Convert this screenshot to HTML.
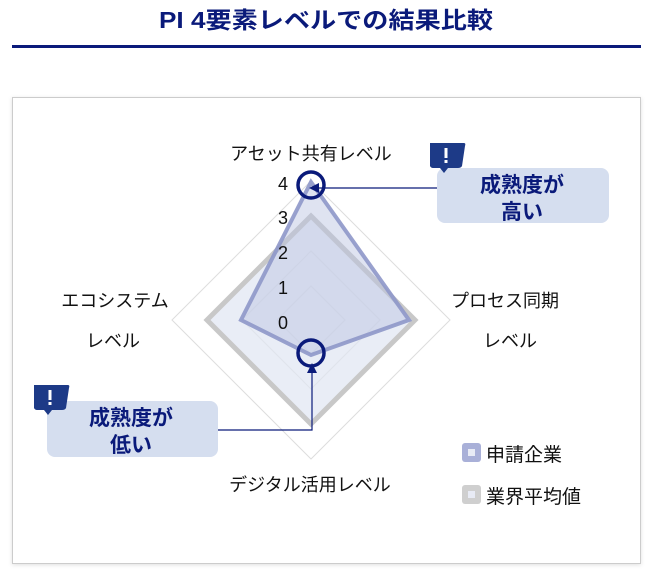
<!DOCTYPE html>
<html><head><meta charset="utf-8"><style>
html,body{margin:0;padding:0;background:#fff;}
body{width:650px;height:574px;overflow:hidden;font-family:"Liberation Sans","Noto Sans CJK JP",sans-serif;}
</style></head><body>
<svg width="650" height="574" viewBox="0 0 650 574" xmlns="http://www.w3.org/2000/svg" font-family="'Liberation Sans','Noto Sans CJK JP',sans-serif">
<defs>
<filter id="sh" x="-5%" y="-5%" width="110%" height="110%"><feDropShadow dx="0" dy="1" stdDeviation="2" flood-color="#000" flood-opacity="0.12"/></filter>
</defs>
<text x="326" y="28" text-anchor="middle" font-size="23" font-weight="bold" fill="#0a1a7a" textLength="334" lengthAdjust="spacingAndGlyphs">PI 4要素レベルでの結果比較</text>
<rect x="12" y="45" width="629" height="3" fill="#0a1a7a"/>
<rect x="12.5" y="97.5" width="628" height="466" fill="#fff" stroke="#cccccc" filter="url(#sh)"/>
<g fill="none" stroke="#dddddd" stroke-width="1">
<polygon points="311,286 345,320 311,354 277,320"/>
<polygon points="311,251 380,320 311,389 242,320"/>
<polygon points="311,216 415,320 311,424 207,320"/>
<polygon points="311,181 450,320 311,459 172,320"/>
</g>
<polygon points="311,216 415,320 311,424 207,320" fill="#dfe5f2" fill-opacity="0.7" stroke="#c8c8c8" stroke-width="5" stroke-linejoin="miter"/>
<polygon points="311,182 409,320 311,355 241,320" fill="#b8c0e0" fill-opacity="0.45" stroke="#8e97c9" stroke-width="4" stroke-opacity="0.9"/>
<g font-size="18" fill="#111" text-anchor="middle">
<text x="283" y="329">0</text>
<text x="283" y="294">1</text>
<text x="283" y="259">2</text>
<text x="283" y="224">3</text>
<text x="283" y="190">4</text>
</g>
<g font-size="18" fill="#111" text-anchor="middle">
<text x="311" y="160">アセット共有レベル</text>
<text x="505" y="307">プロセス同期</text>
<text x="510" y="347">レベル</text>
<text x="115" y="307">エコシステム</text>
<text x="113" y="347">レベル</text>
<text x="310" y="491">デジタル活用レベル</text>
</g>
<circle cx="311" cy="185" r="13" fill="none" stroke="#0a1a7a" stroke-width="3.5"/>
<circle cx="311" cy="353" r="13" fill="none" stroke="#0a1a7a" stroke-width="3.5"/>
<line x1="438" y1="188" x2="318" y2="188" stroke="#0a1a7a" stroke-width="1.2"/>
<polygon points="309,188 319,183 319,193" fill="#0a1a7a"/>
<polyline points="218,430 312,430 312,372" fill="none" stroke="#0a1a7a" stroke-width="1.2"/>
<polygon points="312,363 307,373 317,373" fill="#0a1a7a"/>
<rect x="437" y="168" width="172" height="55" rx="8" fill="#d5deef"/>
<path d="M430,143 L464,143 Q466,143 465,146 L462,166 Q461,168 458,168 L448,168 L444,173 L440,168 L433,168 Q431,168 430,166 Z" fill="#1d3a87"/>
<rect x="444.5" y="148" width="3" height="10" fill="#fff"/><rect x="444.5" y="160" width="3" height="3" fill="#fff"/>
<text x="522" y="192" text-anchor="middle" font-size="21" font-weight="bold" fill="#0a1a7a">成熟度が</text>
<text x="522" y="219" text-anchor="middle" font-size="21" font-weight="bold" fill="#0a1a7a">高い</text>
<rect x="47" y="401" width="171" height="56" rx="8" fill="#d5deef"/>
<path d="M34,385 L68,385 Q70,385 69,388 L66,408 Q65,410 62,410 L52,410 L48,415 L44,410 L37,410 Q35,410 34,408 Z" fill="#1d3a87"/>
<rect x="48.5" y="390" width="3" height="10" fill="#fff"/><rect x="48.5" y="402" width="3" height="3" fill="#fff"/>
<text x="131" y="425" text-anchor="middle" font-size="21" font-weight="bold" fill="#0a1a7a">成熟度が</text>
<text x="131" y="452" text-anchor="middle" font-size="21" font-weight="bold" fill="#0a1a7a">低い</text>
<rect x="462" y="443" width="19" height="19" rx="3" fill="#a9b0d8"/>
<rect x="468" y="449" width="7" height="7" fill="#e8ebf5"/>
<text x="486" y="461" font-size="19" fill="#111">申請企業</text>
<rect x="462" y="485" width="19" height="19" rx="3" fill="#cfcfcf"/>
<rect x="468" y="491" width="7" height="7" fill="#e8ebf5"/>
<text x="486" y="503" font-size="19" fill="#111">業界平均値</text>
</svg>
</body></html>
